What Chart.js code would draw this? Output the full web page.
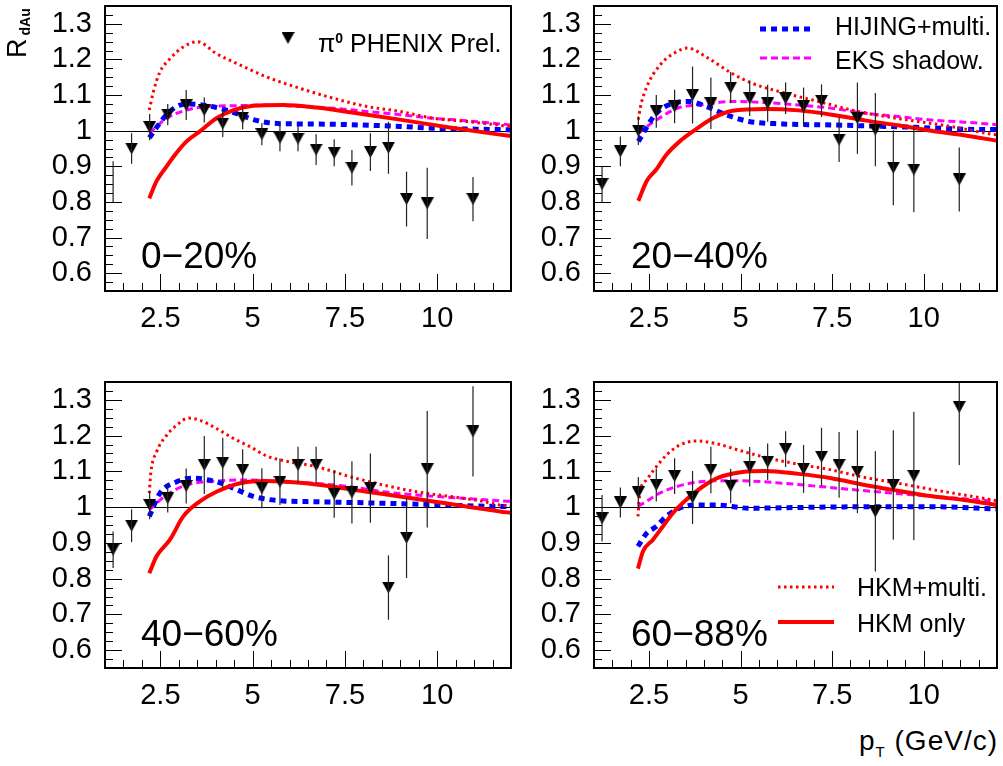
<!doctype html>
<html lang="en">
<head>
<meta charset="utf-8">
<title>R_dAu vs pT, four centrality classes</title>
<script src="https://cdn.jsdelivr.net/npm/chart.js@4"></script>
<style>
  body { margin: 0; background: #fff; }
  #page { position: relative; width: 1003px; height: 766px; overflow: hidden;
          font-family: "Liberation Sans", Arial, sans-serif; color: #000; }
  canvas { position: absolute; }
  .txt { position: absolute; white-space: nowrap; line-height: 1; }
  .cent { font-size: 37px; }
  .leg { font-size: 25px; }
</style>
</head>
<body>
<div id="page">
  <canvas id="c1" width="520" height="340" style="left:0;top:0"></canvas>
  <canvas id="c2" width="503" height="340" style="left:500px;top:0"></canvas>
  <canvas id="c3" width="520" height="360" style="left:0;top:360px"></canvas>
  <canvas id="c4" width="503" height="360" style="left:500px;top:360px"></canvas>

  <div class="txt" style="left:4px;top:58px;font-size:27px;transform:rotate(-90deg);transform-origin:left top;">R<span style="font-size:14px;font-weight:bold;position:relative;top:4px;margin-left:3px;">dAu</span></div>

  <div class="txt leg" style="left:318px;top:31px;">π<sup style="font-size:14px;font-weight:bold;">0</sup> PHENIX Prel.</div>
  <div class="txt leg" style="left:835px;top:14px;">HIJING+multi.</div>
  <div class="txt leg" style="left:835px;top:48px;">EKS shadow.</div>
  <div class="txt leg" style="left:857px;top:575px;">HKM+multi.</div>
  <div class="txt leg" style="left:857px;top:611px;">HKM only</div>

  <div class="txt cent" id="lab1" style="left:141px;top:237px;"></div>
  <div class="txt cent" id="lab2" style="left:631px;top:237px;"></div>
  <div class="txt cent" id="lab3" style="left:141px;top:615px;"></div>
  <div class="txt cent" id="lab4" style="left:631px;top:615px;"></div>

  <div class="txt" style="right:5px;top:727px;font-size:28px;letter-spacing:1px;">p<sub style="font-size:15px;">T</sub> (GeV/c)</div>
</div>

<script>
// pT bins of the measured points (GeV/c)
const ptBins = [1.22, 1.72, 2.21, 2.7, 3.2, 3.69, 4.19, 4.73, 5.25, 5.74, 6.23, 6.72, 7.21, 7.69, 8.19, 8.68, 9.17, 9.73, 10.97];
const xTicks = [2.5, 5, 7.5, 10];
const yTicks = [0.6, 0.7, 0.8, 0.9, 1, 1.1, 1.2, 1.3];
const centLabels = ['0−20%', '20−40%', '40−60%', '60−88%'];

// PHENIX pi0 R_dAu and errors
const p1Ratio = [0.857, 0.95, 1.01, 1.045, 1.072, 1.058, 1.02, 1.037, 0.99, 0.98, 0.978, 0.947, 0.938, 0.896, 0.94, 0.952, 0.808, 0.796, 0.808];
const p1Err   = [0.057, 0.043, 0.037, 0.03, 0.042, 0.035, 0.038, 0.033, 0.031, 0.038, 0.036, 0.043, 0.038, 0.05, 0.053, 0.073, 0.077, 0.1, 0.062];
const p2Ratio = [0.85, 0.942, 1.0, 1.054, 1.068, 1.1, 1.077, 1.121, 1.091, 1.077, 1.091, 1.068, 1.084, 0.975, 1.035, 1.003, 0.896, 0.891, 0.863];
const p2Err   = [0.05, 0.042, 0.04, 0.046, 0.047, 0.08, 0.072, 0.044, 0.05, 0.052, 0.044, 0.053, 0.046, 0.063, 0.1, 0.103, 0.105, 0.12, 0.09];
const p3Ratio = [0.881, 0.948, 1.006, 1.025, 1.059, 1.118, 1.124, 1.104, 1.053, 1.071, 1.118, 1.118, 1.037, 1.041, 1.053, 0.775, 0.914, 1.106, 1.212];
const p3Err   = [0.051, 0.046, 0.04, 0.04, 0.049, 0.081, 0.07, 0.058, 0.056, 0.065, 0.051, 0.051, 0.067, 0.087, 0.097, 0.09, 0.112, 0.163, 0.126];
const p4Ratio = [0.969, 1.013, 1.041, 1.062, 1.087, 1.027, 1.104, 1.059, 1.113, 1.127, 1.162, 1.107, 1.141, 1.118, 1.099, 0.988, 1.062, 1.087, 1.28];
const p4Err   = [0.065, 0.042, 0.043, 0.046, 0.05, 0.074, 0.065, 0.048, 0.055, 0.051, 0.05, 0.067, 0.081, 0.092, 0.116, 0.168, 0.153, 0.18, 0.162];

// model curves, 0-20%
const p1HkmX = [2.2, 2.4, 2.67, 2.94, 3.21, 3.57, 4.02, 4.48, 5.02, 5.83, 6.73, 7.64, 8.99, 10.34, 11.7, 12];
const p1HkmY = [0.81, 0.859, 0.9, 0.938, 0.97, 0.998, 1.035, 1.058, 1.07, 1.072, 1.065, 1.052, 1.031, 1.009, 0.989, 0.985];
const p1HkmMultiX = [2.2, 2.31, 2.49, 2.76, 3.12, 3.51, 4.02, 4.48, 5.38, 6.28, 7.19, 8.09, 8.99, 9.89, 10.79, 11.7, 12];
const p1HkmMultiY = [1.058, 1.109, 1.165, 1.202, 1.235, 1.25, 1.216, 1.193, 1.151, 1.119, 1.091, 1.068, 1.054, 1.035, 1.026, 1.015, 1.011];
const p1HijingX = [2.2, 2.67, 3.03, 3.3, 4.02, 4.65, 5.02, 5.56, 6.28, 7.19, 8.99, 9.89, 11.7, 12];
const p1HijingY = [0.98, 1.045, 1.072, 1.075, 1.065, 1.045, 1.031, 1.021, 1.019, 1.018, 1.012, 1.007, 1.003, 1.002];
const p1EksX = [2.2, 2.67, 3.21, 3.75, 4.48, 5.38, 6.28, 7.19, 8.09, 8.99, 9.89, 10.79, 11.7, 12];
const p1EksY = [0.993, 1.035, 1.058, 1.068, 1.07, 1.072, 1.068, 1.063, 1.054, 1.045, 1.035, 1.028, 1.019, 1.016];

// model curves, 20-40%
const p2HkmX = [2.21, 2.44, 2.7, 2.98, 3.34, 3.7, 4.24, 4.78, 5.68, 6.58, 7.49, 8.39, 9.3, 10.2, 11.1, 12];
const p2HkmY = [0.803, 0.859, 0.891, 0.933, 0.97, 0.998, 1.035, 1.056, 1.061, 1.057, 1.045, 1.029, 1.015, 1.0, 0.987, 0.972];
const p2HkmMultiX = [2.21, 2.26, 2.44, 2.8, 3.16, 3.56, 4.06, 4.78, 5.32, 6.23, 7.13, 8.03, 8.94, 9.84, 10.74, 11.92, 12];
const p2HkmMultiY = [1.031, 1.063, 1.123, 1.184, 1.216, 1.232, 1.207, 1.16, 1.133, 1.105, 1.082, 1.058, 1.04, 1.026, 1.012, 0.989, 0.988];
const p2HijingX = [2.21, 2.7, 3.16, 3.61, 4.06, 4.6, 5.23, 6.14, 7.49, 9.3, 11.9, 12];
const p2HijingY = [0.97, 1.049, 1.077, 1.082, 1.068, 1.045, 1.026, 1.019, 1.016, 1.011, 1.003, 1.003];
const p2EksX = [2.21, 2.7, 3.33, 3.87, 4.78, 5.68, 6.58, 7.49, 8.39, 9.3, 10.2, 11.1, 12];
const p2EksY = [0.993, 1.03, 1.065, 1.072, 1.082, 1.079, 1.072, 1.063, 1.049, 1.04, 1.03, 1.024, 1.017];

// model curves, 40-60%
const p3HkmX = [2.2, 2.4, 2.76, 3.12, 3.57, 4.02, 4.66, 5.38, 6.28, 7.19, 8.09, 8.99, 9.89, 10.79, 11.7, 12];
const p3HkmY = [0.815, 0.863, 0.909, 0.974, 1.016, 1.043, 1.067, 1.073, 1.068, 1.057, 1.043, 1.03, 1.016, 1.002, 0.988, 0.984];
const p3HkmMultiX = [2.2, 2.24, 2.4, 2.67, 2.94, 3.26, 3.57, 4.02, 4.48, 4.93, 5.38, 5.83, 6.73, 7.64, 8.54, 9.44, 10.34, 11.25, 11.7, 12];
const p3HkmMultiY = [1.039, 1.095, 1.155, 1.201, 1.229, 1.249, 1.243, 1.22, 1.192, 1.169, 1.143, 1.13, 1.113, 1.085, 1.062, 1.043, 1.03, 1.016, 1.006, 1.003];
const p3HijingX = [2.2, 2.49, 2.94, 3.35, 4.02, 4.48, 5.02, 5.74, 6.73, 8.09, 9.89, 11.7, 12];
const p3HijingY = [0.974, 1.039, 1.071, 1.081, 1.071, 1.053, 1.03, 1.018, 1.015, 1.012, 1.007, 1.002, 1.002];
const p3EksX = [2.2, 2.67, 3.21, 4.02, 4.93, 5.83, 6.73, 7.64, 8.54, 9.44, 10.34, 11.7, 12];
const p3EksY = [0.993, 1.034, 1.062, 1.073, 1.076, 1.071, 1.066, 1.057, 1.043, 1.034, 1.027, 1.018, 1.016];

// model curves, 60-88%
const p4HkmX = [2.2, 2.34, 2.61, 2.88, 3.15, 3.51, 3.96, 4.41, 4.96, 5.68, 6.58, 7.48, 8.39, 9.29, 10.19, 11.1, 12];
const p4HkmY = [0.828, 0.877, 0.909, 0.946, 0.983, 1.02, 1.057, 1.083, 1.097, 1.101, 1.093, 1.081, 1.062, 1.046, 1.031, 1.02, 1.006];
const p4HkmMultiX = [2.2, 2.25, 2.43, 2.7, 2.97, 3.33, 3.78, 4.32, 4.96, 5.68, 6.58, 7.48, 8.39, 9.29, 10.19, 11.1, 12];
const p4HkmMultiY = [0.974, 1.039, 1.076, 1.113, 1.145, 1.173, 1.185, 1.178, 1.159, 1.139, 1.12, 1.104, 1.083, 1.067, 1.05, 1.034, 1.018];
const p4HijingX = [2.2, 2.43, 2.7, 2.97, 3.33, 3.78, 4.32, 5.23, 6.58, 8.39, 10.19, 12];
const p4HijingY = [0.89, 0.926, 0.946, 0.974, 0.997, 1.006, 1.006, 0.997, 0.999, 1.001, 1.001, 0.995];
const p4EksX = [2.2, 2.43, 2.79, 3.24, 3.69, 4.32, 5.23, 6.13, 7.03, 7.94, 8.84, 9.74, 10.65, 12];
const p4EksY = [1.002, 1.016, 1.039, 1.057, 1.068, 1.074, 1.073, 1.067, 1.059, 1.05, 1.042, 1.034, 1.027, 1.016];

const xy = (xs, ys) => xs.map((x, i) => ({ x: x, y: ys[i] }));

// ROOT-like downward triangle marker
function triangleMarker(w, h) {
  const c = document.createElement('canvas');
  c.width = w;
  c.height = h;
  const g = c.getContext('2d');
  g.fillStyle = '#000';
  g.beginPath();
  g.moveTo(0, 0);
  g.lineTo(w, 0);
  g.lineTo(w / 2, h);
  g.closePath();
  g.fill();
  return c;
}
const marker = triangleMarker(13, 12);

// frame, inward ticks, unity line, error bars and the in-pad legends
const rootFrame = {
  id: 'rootFrame',
  beforeDatasetsDraw(chart) {
    const { ctx, chartArea: a, scales: { y } } = chart;
    const yy = Math.round(y.getPixelForValue(1)) + 0.5;
    ctx.save();
    ctx.strokeStyle = '#000';
    ctx.lineWidth = 1;
    ctx.beginPath();
    ctx.moveTo(a.left, yy);
    ctx.lineTo(a.right, yy);
    ctx.stroke();
    ctx.restore();
  },
  afterDatasetsDraw(chart, args, opts) {
    const { ctx, chartArea: a, scales: { x, y } } = chart;
    ctx.save();
    ctx.beginPath();
    ctx.rect(a.left, a.top, a.right - a.left, a.bottom - a.top);
    ctx.clip();
    ctx.strokeStyle = '#222';
    ctx.lineWidth = 1.2;
    chart.data.datasets[0].data.forEach((p, i) => {
      const px = x.getPixelForValue(p.x);
      ctx.beginPath();
      ctx.moveTo(px, y.getPixelForValue(p.y - opts.err[i]));
      ctx.lineTo(px, y.getPixelForValue(p.y + opts.err[i]));
      ctx.stroke();
    });
    ctx.restore();

    ctx.save();
    ctx.strokeStyle = '#000';
    ctx.lineWidth = 1;
    ctx.beginPath();
    for (let k = 23; k <= 53; k++) {
      const py = Math.round(y.getPixelForValue(k * 0.025)) + 0.5;
      ctx.moveTo(a.left, py);
      ctx.lineTo(a.left + (k % 4 === 0 ? 17 : 8), py);
    }
    for (let k = 3; k <= 23; k++) {
      const px = Math.round(x.getPixelForValue(k * 0.5)) + 0.5;
      ctx.moveTo(px, a.bottom);
      ctx.lineTo(px, a.bottom - (k % 5 === 0 ? 17 : 8));
    }
    ctx.stroke();
    ctx.lineWidth = 2;
    ctx.strokeRect(a.left, a.top, a.right - a.left, a.bottom - a.top);
    ctx.restore();
  },
  afterDraw(chart, args, opts) {
    const ctx = chart.ctx;
    (opts.legend || []).forEach(it => {
      ctx.save();
      if (it.marker) {
        ctx.drawImage(marker, it.x - marker.width / 2, it.y - marker.height / 2);
      } else {
        const ds = chart.data.datasets[it.ds];
        ctx.strokeStyle = ds.borderColor;
        ctx.lineWidth = ds.borderWidth;
        ctx.setLineDash(ds.borderDash || []);
        ctx.beginPath();
        ctx.moveTo(it.x0, it.y);
        ctx.lineTo(it.x1, it.y);
        ctx.stroke();
      }
      ctx.restore();
    });
  }
};

const panels = [
  { id: 'c1', ratio: p1Ratio, err: p1Err, hideFirst: true,
    curves: [[p1HkmX, p1HkmY], [p1HkmMultiX, p1HkmMultiY], [p1HijingX, p1HijingY], [p1EksX, p1EksY]],
    yW: 105, padR: 9, padT: 4, xH: 49, legend: [{ marker: true, x: 288, y: 38 }] },
  { id: 'c2', ratio: p2Ratio, err: p2Err,
    curves: [[p2HkmX, p2HkmY], [p2HkmMultiX, p2HkmMultiY], [p2HijingX, p2HijingY], [p2EksX, p2EksY]],
    yW: 94, padR: 3, padT: 4, xH: 49,
    legend: [{ ds: 3, x0: 260, x1: 314, y: 29 }, { ds: 4, x0: 260, x1: 314, y: 58 }] },
  { id: 'c3', ratio: p3Ratio, err: p3Err,
    curves: [[p3HkmX, p3HkmY], [p3HkmMultiX, p3HkmMultiY], [p3HijingX, p3HijingY], [p3EksX, p3EksY]],
    yW: 105, padR: 9, padT: 22, xH: 52, legend: [] },
  { id: 'c4', ratio: p4Ratio, err: p4Err,
    curves: [[p4HkmX, p4HkmY], [p4HkmMultiX, p4HkmMultiY], [p4HijingX, p4HijingY], [p4EksX, p4EksY]],
    yW: 94, padR: 3, padT: 22, xH: 52,
    legend: [{ ds: 2, x0: 278, x1: 334, y: 227 }, { ds: 1, x0: 278, x1: 334, y: 262 }] }
];

const curveStyles = [
  { label: 'HKM only', borderColor: '#ff0000', borderWidth: 4, borderDash: [] },
  { label: 'HKM+multi.', borderColor: '#ff0000', borderWidth: 3, borderDash: [2.5, 3.5] },
  { label: 'HIJING+multi.', borderColor: '#0000ff', borderWidth: 5, borderDash: [6, 5] },
  { label: 'EKS shadow.', borderColor: '#ff00ff', borderWidth: 3, borderDash: [7, 4] }
];

const tickFont = { family: '"Liberation Sans", Arial, sans-serif', size: 29 };

panels.forEach((p, n) => {
  document.getElementById('lab' + (n + 1)).textContent = centLabels[n];

  const datasets = [{
    type: 'scatter',
    label: 'π0 PHENIX Prel.',
    data: xy(ptBins, p.ratio),
    pointStyle: marker,
    pointRadius: c => (p.hideFirst && c.dataIndex === 0) ? 0 : 6,
    backgroundColor: '#000',
    borderColor: '#000',
    borderWidth: 0
  }];
  p.curves.forEach((c, i) => {
    datasets.push(Object.assign({
      type: 'line',
      data: xy(c[0], c[1]),
      pointRadius: 0,
      fill: false,
      borderCapStyle: 'butt',
      cubicInterpolationMode: 'monotone'
    }, curveStyles[i]));
  });

  new Chart(document.getElementById(p.id), {
    type: 'line',
    data: { datasets: datasets },
    options: {
      responsive: false,
      animation: false,
      events: [],
      layout: { padding: { top: p.padT, right: p.padR, left: 0, bottom: 0 } },
      plugins: {
        legend: { display: false },
        tooltip: { enabled: false },
        rootFrame: { err: p.err, legend: p.legend }
      },
      scales: {
        x: {
          type: 'linear', min: 1, max: 12,
          grid: { display: false, drawTicks: false },
          border: { display: false },
          afterBuildTicks: s => { s.ticks = xTicks.map(v => ({ value: v })); },
          afterFit: s => { s.height = p.xH; s.paddingLeft = 0; s.paddingRight = 0; },
          ticks: { font: tickFont, color: '#000', padding: 11, maxRotation: 0, autoSkip: false,
                   callback: v => String(v) }
        },
        y: {
          type: 'linear', min: 0.55, max: 1.35,
          grid: { display: false, drawTicks: false },
          border: { display: false },
          afterBuildTicks: s => { s.ticks = yTicks.map(v => ({ value: v })); },
          afterFit: s => { s.width = p.yW; s.paddingTop = 0; s.paddingBottom = 0; },
          ticks: { font: tickFont, color: '#000', padding: 13, autoSkip: false,
                   callback: v => (v === 1 ? '1' : v.toFixed(1)) }
        }
      }
    },
    plugins: [rootFrame]
  });
});
</script>
</body>
</html>
